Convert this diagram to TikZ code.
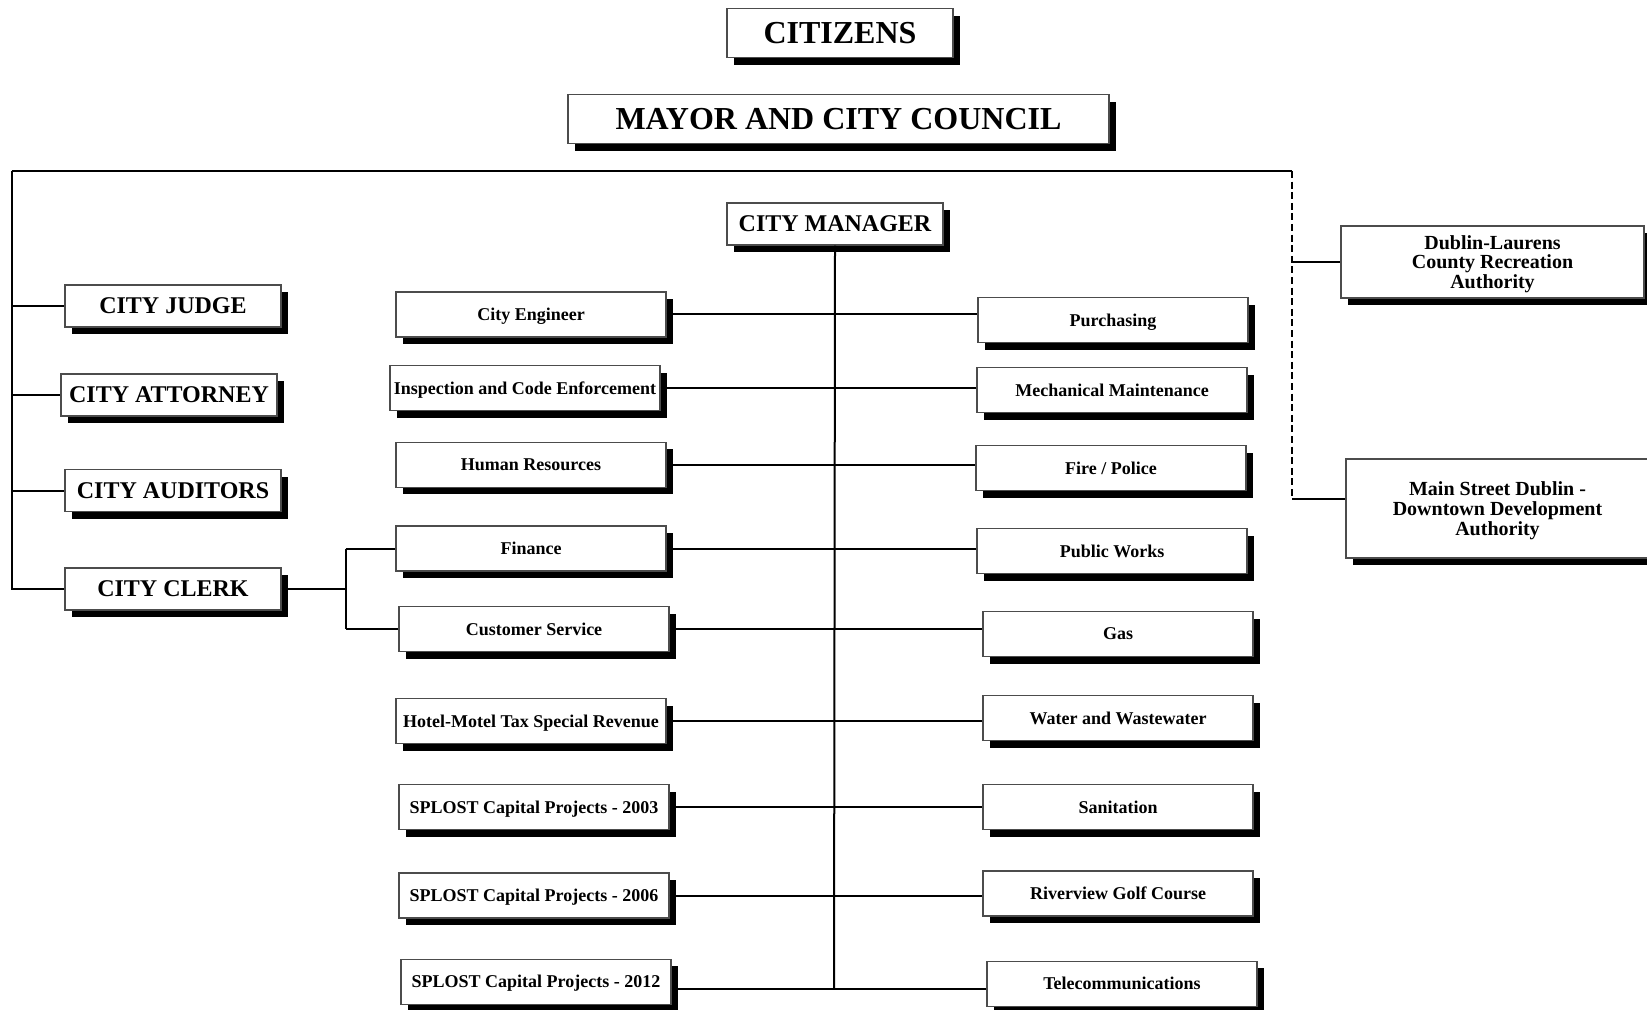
\documentclass[tikz,border=0pt]{standalone}
\usepackage{fontspec}
\setmainfont{Liberation Serif}
\usetikzlibrary{shadows}

\begin{document}
\begin{tikzpicture}[x=0.5pt,y=-0.5pt,
  box/.style={draw=black!70,line width=0.6pt,fill=white,inner sep=1pt,align=center,text depth=0pt,
    drop shadow={shadow xshift=3.6pt,shadow yshift=-3.6pt,fill=black,opacity=1}},
  topbox/.style={box,font=\fontsize{16}{18}\selectfont\bfseries,minimum height=24.5pt},
  headbox/.style={box,font=\fontsize{12}{14}\selectfont\bfseries,minimum width=108pt,minimum height=21pt},
  unitbox/.style={box,font=\fontsize{9}{10}\selectfont\bfseries,minimum width=135pt,minimum height=22.5pt},
  authbox/.style={box,font=\fontsize{10}{9.8}\selectfont\bfseries,minimum width=151.5pt},
  link/.style={line width=1pt}]
\useasboundingbox (0,0) rectangle (1647,1010);
\node[topbox,minimum width=113pt] (citizens) at (840,33) {CITIZENS};
\node[topbox,minimum width=270.5pt] (mayor) at (838.5,119) {MAYOR AND CITY COUNCIL};
\node[headbox] (mgr) at (835,224) {CITY MANAGER};
\node[headbox] (judge) at (173,306) {CITY JUDGE};
\node[headbox] (attorney) at (169,395) {CITY ATTORNEY};
\node[headbox] (auditors) at (173,490.5) {CITY AUDITORS};
\node[headbox] (clerk) at (173,589) {CITY CLERK};
\node[unitbox] (eng) at (531,314.5) {City Engineer};
\node[unitbox] (insp) at (525,388) {Inspection and Code Enforcement};
\node[unitbox] (hr) at (531,464.7) {Human Resources};
\node[unitbox] (fin) at (531,548.5) {Finance};
\node[unitbox] (cust) at (534,629) {Customer Service};
\node[unitbox] (hotel) at (531,721) {Hotel-Motel Tax Special Revenue};
\node[unitbox] (s03) at (534,807) {SPLOST Capital Projects - 2003};
\node[unitbox] (s06) at (534,895.5) {SPLOST Capital Projects - 2006};
\node[unitbox] (s12) at (536,981.6) {SPLOST Capital Projects - 2012};
\node[unitbox] (purch) at (1113,320) {Purchasing};
\node[unitbox] (mech) at (1112,390) {Mechanical Maintenance};
\node[unitbox] (fire) at (1111,468) {Fire / Police};
\node[unitbox] (pw) at (1112,551) {Public Works};
\node[unitbox] (gas) at (1118,634) {Gas};
\node[unitbox] (water) at (1118,718) {Water and Wastewater};
\node[unitbox] (san) at (1118,807) {Sanitation};
\node[unitbox] (golf) at (1118,893.4) {Riverview Golf Course};
\node[unitbox] (tel) at (1122,983.6) {Telecommunications};
\node[authbox,minimum height=36pt] (dublin) at (1492.5,262) {Dublin-Laurens\\County Recreation\\Authority};
\node[authbox,minimum height=49.5pt] (mainst) at (1497.5,508.5) {Main Street Dublin -\\Downtown Development\\Authority};
\coordinate (tl) at (11.6,171);
\coordinate (tr) at (1292,171);
\coordinate (mainin) at (1292,499);
\coordinate (cj) at (345.6,589);
\coordinate (mgrend) at (834,989);
\draw[link] (tl) -- (tr);
\draw[link] (tl) -- (tl |- clerk.west) -- (clerk.west);
\foreach \n in {judge,attorney,auditors}
  \draw[link] (tl |- \n.west) -- (\n.west);
\draw[line width=0.6pt,dash pattern=on 3.5pt off 1.8pt] (tr) -- (mainin);
\draw[link] (tr |- dublin.west) -- (dublin.west);
\draw[link] (mainin) -- (mainin -| mainst.west);
\draw[link] (clerk.east) -- (cj);
\draw[link] (cj |- fin.west) -- (cj |- cust.west);
\draw[link] (cj |- fin.west) -- (fin.west);
\draw[link] (cj |- cust.west) -- (cust.west);
\draw[link] (mgr.south) -- (mgrend);
\foreach \a/\b in {eng/purch,insp/mech,hr/fire,fin/pw,cust/gas,hotel/water,s03/san,s06/golf}
  \draw[link] (\a.east) -- (\a.east -| \b.west);
\draw[link] (s12.east |- mgrend) -- (tel.west |- mgrend);
\end{tikzpicture}
\end{document}
